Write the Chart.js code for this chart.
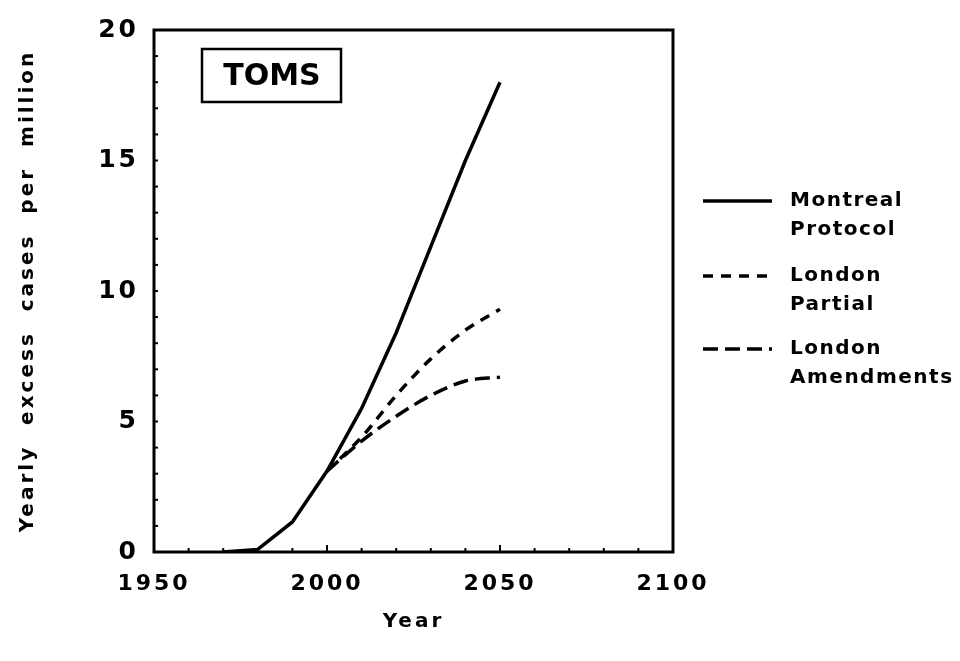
<!DOCTYPE html>
<html>
<head>
<meta charset="utf-8">
<script src="https://cdn.jsdelivr.net/npm/chart.js@4.4.0/dist/chart.umd.min.js"></script>
<style>
  html, body { margin: 0; padding: 0; background: #fff; }
  #wrap { width: 960px; height: 661px; position: relative; }
</style>
</head>
<body>
<div id="wrap"><canvas id="uvChart"></canvas></div>
<script>
// values
const years = [1970, 1980, 1990, 2000, 2010, 2020, 2030, 2040, 2050];
const montreal = [0, 0.1, 1.15, 3.1, 5.5, 8.4, 11.7, 15.0, 18.0];
const londonYears = [2000, 2010, 2020, 2030, 2040, 2050];
const londonPartial = [3.1, 4.4, 6.0, 7.4, 8.5, 9.3];
const londonAmend = [3.1, 4.25, 5.2, 6.0, 6.55, 6.7];

const seriesNames = [['Montreal', 'Protocol'], ['London', 'Partial'], ['London', 'Amendments']];
const boxLabel = 'TOMS';

const FONT = '"DejaVu Sans", "Liberation Sans", sans-serif';

function toPoints(xs, ys) {
    return xs.map((x, i) => ({ x: x, y: ys[i] }));
}

// spacing for the wide lettering of the original
const spacing = {
    id: 'spacing',
    beforeLayout(chart) { chart.ctx.letterSpacing = '3px'; },
    beforeDraw(chart) { chart.ctx.letterSpacing = '3px'; }
};

// frame, inner ticks, TOMS box and legend
const decorations = {
    id: 'decorations',
    afterDraw(chart) {
        const ctx = chart.ctx;
        const a = chart.chartArea;
        const xs = chart.scales.x;
        const ys = chart.scales.y;
        ctx.save();
        ctx.letterSpacing = '0px';
        ctx.strokeStyle = '#000';
        ctx.lineCap = 'butt';

        // frame
        ctx.lineWidth = 3;
        ctx.strokeRect(a.left, a.top, a.right - a.left, a.bottom - a.top);

        // minor ticks pointing inward
        ctx.lineWidth = 2;
        for (let v = xs.min + 10; v < xs.max; v += 10) {
            const px = xs.getPixelForValue(v);
            const len = (v % 50 === 0) ? 7 : 4;
            ctx.beginPath();
            ctx.moveTo(px, a.bottom);
            ctx.lineTo(px, a.bottom - len);
            ctx.stroke();
        }
        for (let v = ys.min + 1; v < ys.max; v++) {
            const py = ys.getPixelForValue(v);
            ctx.beginPath();
            ctx.moveTo(a.left, py);
            ctx.lineTo(a.left + 4, py);
            ctx.stroke();
        }

        // TOMS box
        ctx.lineWidth = 2.5;
        ctx.strokeRect(a.left + 48, a.top + 19, 139, 53);
        ctx.fillStyle = '#000';
        ctx.font = 'bold 30px ' + FONT;
        ctx.textAlign = 'center';
        ctx.textBaseline = 'middle';
        ctx.fillText(boxLabel, a.left + 48 + 70, a.top + 19 + 28);

        // legend
        const rows = [201, 276, 349];
        ctx.font = 'bold 20px ' + FONT;
        ctx.textAlign = 'left';
        ctx.letterSpacing = '1.5px';
        chart.data.datasets.forEach((ds, i) => {
            const y = rows[i];
            ctx.lineWidth = ds.borderWidth;
            ctx.setLineDash(ds.borderDash || []);
            ctx.beginPath();
            ctx.moveTo(703, y);
            ctx.lineTo(772, y);
            ctx.stroke();
            ctx.setLineDash([]);
            seriesNames[i].forEach((t, k) => {
                ctx.fillText(t, 790, y + k * 29);
            });
        });
        ctx.restore();
    }
};

const config = {
    type: 'line',
    data: {
        datasets: [
            {
                label: seriesNames[0].join(' '),
                data: toPoints(years, montreal),
                borderColor: '#000',
                borderWidth: 3.5,
                tension: 0
            },
            {
                label: seriesNames[1].join(' '),
                data: toPoints(londonYears, londonPartial),
                borderColor: '#000',
                borderWidth: 3.5,
                borderDash: [10, 8],
                cubicInterpolationMode: 'monotone'
            },
            {
                label: seriesNames[2].join(' '),
                data: toPoints(londonYears, londonAmend),
                borderColor: '#000',
                borderWidth: 3.5,
                borderDash: [15, 7],
                cubicInterpolationMode: 'monotone'
            }
        ]
    },
    options: {
        responsive: true,
        maintainAspectRatio: false,
        animation: false,
        elements: { point: { radius: 0 } },
        layout: { padding: { left: 0, top: 25, right: 287, bottom: 0 } },
        plugins: {
            legend: { display: false },
            tooltip: { enabled: false }
        },
        scales: {
            x: {
                type: 'linear',
                min: 1950,
                max: 2100,
                grid: { display: false, drawTicks: false },
                border: { display: false },
                ticks: {
                    stepSize: 50,
                    padding: 19,
                    color: '#000',
                    font: { family: FONT, size: 22, weight: 'bold' },
                    callback: v => String(v)
                },
                title: {
                    display: true,
                    text: 'Year',
                    color: '#000',
                    font: { family: FONT, size: 20, weight: 'bold' },
                    padding: { top: 27, bottom: 27 }
                },
                afterFit(scale) { scale.height = 661 - 552; }
            },
            y: {
                min: 0,
                max: 20,
                grid: { display: false, drawTicks: false },
                border: { display: false },
                ticks: {
                    stepSize: 5,
                    padding: 15,
                    color: '#000',
                    font: { family: FONT, size: 25, weight: 'bold' }
                },
                title: {
                    display: true,
                    text: 'Yearly  excess  cases  per  million',
                    color: '#000',
                    font: { family: FONT, size: 20, weight: 'bold' },
                    padding: { top: 16, bottom: 16 }
                },
                afterFit(scale) { scale.width = 154; }
            }
        }
    },
    plugins: [spacing, decorations]
};

const ctx = document.getElementById('uvChart').getContext('2d');
const chart = new Chart(ctx, config);
</script>
</body>
</html>
